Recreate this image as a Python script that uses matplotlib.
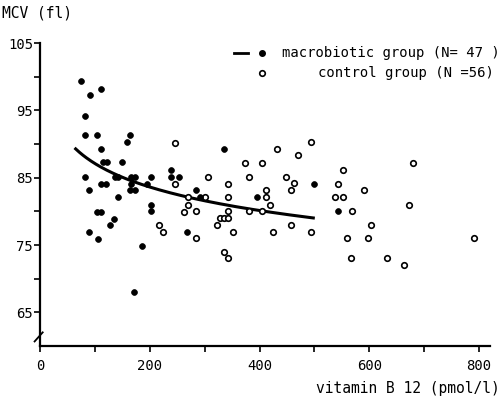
import numpy as np
import matplotlib
matplotlib.use("Agg")
import matplotlib.pyplot as plt
from matplotlib.lines import Line2D

# ---------------- data ----------------
macro_x = [74, 111, 91, 82, 82, 104, 164, 158, 112, 115, 122, 150, 82, 137, 143,
           166, 173, 202, 112, 120, 166, 164, 173, 90, 195, 143, 104, 112, 202, 202,
           135, 128, 90, 105, 186, 172, 239, 239, 253, 285, 291, 268, 336, 499, 395, 543]
macro_y = [99.4, 98.2, 97.3, 94.2, 91.3, 91.4, 91.4, 90.3, 89.3, 87.3, 87.3, 87.3, 85.1, 85.1, 85.1,
           85.1, 85.1, 85.1, 84.1, 84.1, 84.1, 83.1, 83.1, 83.1, 84.1, 82.1, 79.9, 79.9, 80.9, 80.0,
           78.9, 77.9, 76.9, 75.9, 74.9, 68.0, 86.2, 85.1, 85.1, 83.1, 82.1, 76.9, 89.3, 84.1, 82.1, 80.0]

ctrl_x = [246, 246, 269, 269, 262, 284, 216, 225, 284,
          300, 493, 432, 470, 373, 404, 306, 381, 449, 343, 463, 412, 457, 343, 412, 419,
          343, 381, 404, 328, 336, 343, 322, 457, 351, 425, 493, 336, 343, 543, 537,
          552, 590, 552, 568, 679, 672, 604, 560, 597, 790, 566, 633, 663]
ctrl_y = [90.2, 84.1, 82.1, 81.0, 79.9, 80.0, 78.0, 76.9, 76.0,
          82.1, 90.3, 89.3, 88.3, 87.2, 87.2, 85.1, 85.1, 85.1, 84.1, 84.2, 83.2, 83.2, 82.1, 82.1, 81.0,
          80.0, 80.0, 80.0, 79.0, 79.0, 79.0, 78.0, 78.0, 76.9, 76.9, 76.9, 74.0, 73.0, 84.1, 82.1,
          86.1, 83.1, 82.1, 80.0, 87.2, 81.0, 78.0, 76.0, 76.0, 76.0, 73.0, 73.0, 72.0]

# points read along the regression curve of the macrobiotic group
curve_x = [65, 116, 143, 176, 197, 218, 261, 282, 373, 498]
curve_y = [89.3, 87.0, 85.1, 84.0, 83.8, 82.8, 82.1, 81.6, 80.5, 79.5]

x_ticks = [0, 200, 400, 600, 800]
x_minor = [100, 300, 500, 700]
y_ticks = [65, 75, 85, 95, 105]
y_minor = [70, 80, 90, 100]

legend_labels = ["macrobiotic group (N= 47 )", "control group (N =56)"]
x_label = "vitamin B 12 (pmol/l)"
y_label = "MCV (fl)"

# ---------------- figure ----------------
W, H = 502, 404
fig = plt.figure(figsize=(W / 100, H / 100), dpi=100)
plt.rcParams['font.family'] = ['DejaVu Sans Mono', 'DejaVu Sans']
FS = 10

ax = fig.add_axes([40 / W, 58 / H, 450 / W, 303 / H])
ax.set_xlim(0, 820)
ax.set_ylim(60, 105)

# regression curve (smooth log fit through the read curve points)
b, a = np.polyfit(np.log(curve_x), curve_y, 1)
xs = np.linspace(min(curve_x), max(curve_x), 200)
ax.plot(xs, a + b * np.log(xs), color='black', lw=2.2, zorder=2)

ax.plot(ctrl_x, ctrl_y, 'o', ms=4.0, mfc='white', mec='black', mew=1.2, zorder=3)
ax.plot(macro_x, macro_y, 'o', ms=4.2, mfc='black', mec='black', mew=0.5, zorder=4)

for s in ['top', 'right']:
    ax.spines[s].set_visible(False)
for s in ['left', 'bottom']:
    ax.spines[s].set_linewidth(1.6)

ax.set_xticks(x_ticks)
ax.set_xticks(x_minor, minor=True)
ax.set_yticks(y_ticks)
ax.set_yticks(y_minor, minor=True)
ax.set_xticklabels([str(v) for v in x_ticks], fontsize=FS)
ax.set_yticklabels([str(v) for v in y_ticks], fontsize=FS)
ax.tick_params(axis='both', which='both', direction='out', length=4, width=1.2, color='black')
ax.tick_params(axis='x', which='both', pad=5)
ax.tick_params(axis='y', which='both', pad=1)

# axis break mark on the y axis
ax.plot([-0.012, 0.006], [0.015, 0.045], transform=ax.transAxes, color='black',
        lw=1.3, clip_on=False)

# texts
fig.text(2 / W, 1 - 13 / H, y_label, fontsize=10.5, ha='left', va='center')
fig.text(500 / W, 1 - 388 / H, x_label, fontsize=10.5, ha='right', va='center')

# legend drawn by hand
r1, r2 = 1 - 53 / H, 1 - 73 / H
fig.add_artist(Line2D([234 / W, 248 / W], [r1, r1], color='black', lw=2.0))
fig.add_artist(Line2D([262 / W], [r1], marker='o', ms=4.0, mfc='black', mec='black', ls='none'))
fig.add_artist(Line2D([262 / W], [r2], marker='o', ms=4.0, mfc='white', mec='black', mew=1.2, ls='none'))
fig.text(282 / W, r1, legend_labels[0], fontsize=FS, ha='left', va='center')
fig.text(318 / W, r2, legend_labels[1], fontsize=FS, ha='left', va='center')

fig.savefig("out.png", dpi=100, facecolor='white')
